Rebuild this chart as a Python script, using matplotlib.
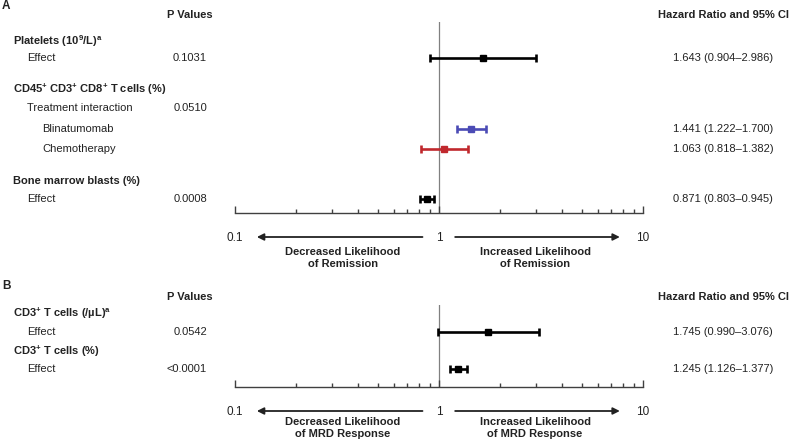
import matplotlib
matplotlib.use("Agg")
import matplotlib.pyplot as plt
import matplotlib.transforms as mtransforms
from matplotlib.ticker import LogLocator, NullFormatter, FixedLocator, FixedFormatter

plt.rcParams['font.family'] = ['Liberation Sans', 'DejaVu Sans']
plt.rcParams['mathtext.fontset'] = 'custom'
plt.rcParams['mathtext.rm'] = 'Liberation Sans'
plt.rcParams['mathtext.it'] = 'Liberation Sans'
plt.rcParams['mathtext.bf'] = 'Liberation Sans:bold'

# ---------------- data ----------------
# Panel A
a_labels = [r"Platelets (10$^{\mathbf{9}}$/L)$^{\mathbf{a}}$", "Effect",
            r"CD45$^{\mathbf{+}}$ CD3$^{\mathbf{+}}$ CD8$^{\mathbf{+}}$ T cells (%)",
            "Treatment interaction", "Blinatumomab", "Chemotherapy",
            "Bone marrow blasts (%)", "Effect"]
a_indent = [0, 1, 0, 1, 2, 2, 0, 1]
a_bold = [True, False, True, False, False, False, True, False]
a_pvals = ["", "0.1031", "", "0.0510", "", "", "", "0.0008"]
a_hr = [None, 1.643, None, None, 1.441, 1.063, None, 0.871]
a_lo = [None, 0.904, None, None, 1.222, 0.818, None, 0.803]
a_hi = [None, 2.986, None, None, 1.700, 1.382, None, 0.945]
a_colors = [None, "#000000", None, None, "#4b4bb5", "#c0282d", None, "#000000"]

# Panel B
b_labels = [r"CD3$^{\mathbf{+}}$ T cells (/µL)$^{\mathbf{a}}$", "Effect",
            r"CD3$^{\mathbf{+}}$ T cells (%)", "Effect"]
b_indent = [0, 1, 0, 1]
b_bold = [True, False, True, False]
b_pvals = ["", "0.0542", "", "<0.0001"]
b_hr = [None, 1.745, None, 1.245]
b_lo = [None, 0.990, None, 1.126]
b_hi = [None, 3.076, None, 1.377]
b_colors = [None, "#000000", None, "#000000"]

tick_values = [0.1, 1, 10]
tick_labels = ["0.1", "1", "10"]

# ---------------- layout (pixel rows) ----------------
W, H = 789, 441
a_rows = [41, 58, 89, 108, 129, 149, 181, 199]
b_rows = [313, 332, 351, 369]

fig = plt.figure(figsize=(W / 100, H / 100), dpi=100)

def fx(px):
    return px / W

def fy(py):
    return 1 - py / H

FS = 8.0
TXT = '#222222'


def panel(letter, letter_y, head_y, top_y, axis_y, rows, labels, indent, bold, pvals,
          hr, lo, hi, colors, outcome, out_off):
    ax = fig.add_axes([fx(235), fy(axis_y), fx(643) - fx(235), fy(top_y) - fy(axis_y)])
    ax.set_xscale('log')
    ax.set_xlim(0.1, 10)
    ax.set_ylim(axis_y, top_y)
    for s in ['top', 'right', 'left']:
        ax.spines[s].set_visible(False)
    ax.spines['bottom'].set_color('#404040')
    ax.spines['bottom'].set_linewidth(1.0)
    ax.set_yticks([])
    ax.xaxis.set_major_locator(FixedLocator(tick_values))
    ax.xaxis.set_major_formatter(FixedFormatter(tick_labels))
    ax.xaxis.set_minor_locator(LogLocator(base=10, subs=range(2, 10)))
    ax.xaxis.set_minor_formatter(NullFormatter())
    ax.tick_params(axis='x', which='major', direction='in', length=5, width=1.0,
                   color='#404040', pad=14, labelsize=8.5, labelcolor=TXT)
    ax.tick_params(axis='x', which='minor', direction='in', length=3.2, width=1.0,
                   color='#404040')
    ax.patch.set_alpha(0)
    ax.axvline(1, color='#808080', lw=0.9, zorder=1)

    for y, h, l, u, c in zip(rows, hr, lo, hi, colors):
        if h is None:
            continue
        ax.errorbar([h], [y], xerr=[[h - l], [u - h]], fmt='s', color=c, ecolor=c,
                    markersize=4.2, elinewidth=1.9, capsize=3.2, capthick=1.9, zorder=3)

    for y, lab, ind, b, p in zip(rows, labels, indent, bold, pvals):
        fig.text(fx(13 + 14.5 * ind), fy(y), lab, fontsize=FS,
                 fontweight='bold' if b else 'normal', va='center', ha='left', color=TXT)
        if p:
            fig.text(fx(207), fy(y), p, fontsize=FS, va='center', ha='right', color=TXT)
    for y, h, l, u in zip(rows, hr, lo, hi):
        if h is None:
            continue
        fig.text(fx(673), fy(y), f"{h:.3f} ({l:.3f}\u2013{u:.3f})", fontsize=FS,
                 va='center', ha='left', color=TXT)

    fig.text(fx(190), fy(head_y), "P Values", fontsize=FS, fontweight='bold',
             ha='center', va='center', color=TXT)
    fig.text(fx(658), fy(head_y), "Hazard Ratio and 95% CI", fontsize=FS, fontweight='bold',
             ha='left', va='center', color=TXT)
    fig.text(fx(2), fy(letter_y), letter, fontsize=8.5, fontweight='bold', ha='left',
             va='center', color=TXT)

    bt = mtransforms.blended_transform_factory(ax.transData, fig.transFigure)
    arr_y = fy(axis_y + 24)
    ax.annotate("", xy=(0.128, arr_y), xytext=(0.83, arr_y), xycoords=bt, textcoords=bt,
                arrowprops=dict(arrowstyle='-|>', color=TXT, lw=1.3,
                                mutation_scale=10, shrinkA=0, shrinkB=0),
                annotation_clip=False)
    ax.annotate("", xy=(7.7, arr_y), xytext=(1.2, arr_y), xycoords=bt, textcoords=bt,
                arrowprops=dict(arrowstyle='-|>', color=TXT, lw=1.3,
                                mutation_scale=10, shrinkA=0, shrinkB=0),
                annotation_clip=False)
    fig.text(fx(343), fy(axis_y + out_off), f"Decreased Likelihood\nof {outcome}", fontsize=FS,
             fontweight='bold', ha='center', va='center', linespacing=1.15, color=TXT)
    fig.text(fx(535), fy(axis_y + out_off), f"Increased Likelihood\nof {outcome}", fontsize=FS,
             fontweight='bold', ha='center', va='center', linespacing=1.15, color=TXT)
    return ax


panel("A", 6, 15, 22, 213, a_rows, a_labels, a_indent, a_bold, a_pvals,
      a_hr, a_lo, a_hi, a_colors, "Remission", 45)
panel("B", 286, 297, 305, 387, b_rows, b_labels, b_indent, b_bold, b_pvals,
      b_hr, b_lo, b_hi, b_colors, "MRD Response", 41)

fig.savefig("out.png", dpi=100)
